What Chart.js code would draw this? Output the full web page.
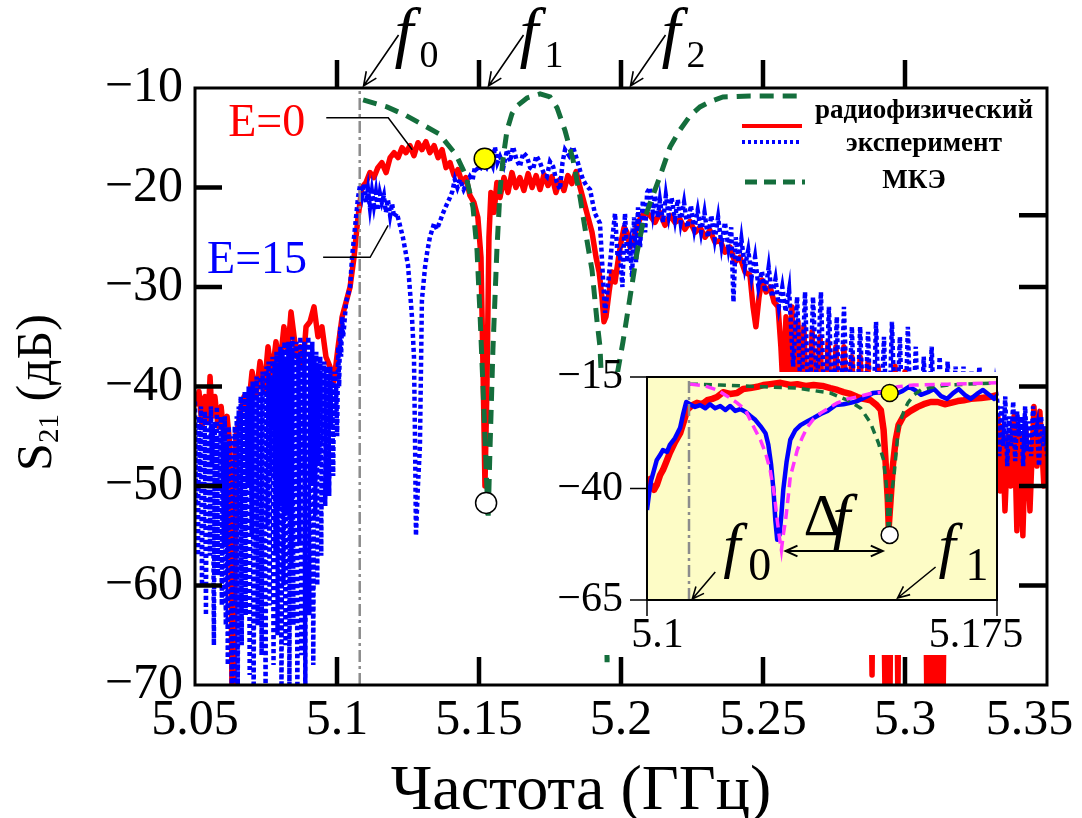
<!DOCTYPE html>
<html lang="ru">
<head>
<meta charset="UTF-8">
<title>S21 — Частота</title>
<script src="https://cdn.jsdelivr.net/npm/chart.js"></script>
<style>
  body { margin: 0; background: #fff; }
  #wrap { position: relative; width: 1082px; height: 818px; }
  #mainChart { position: absolute; left: 0; top: 0; }
  #insetChart { position: absolute; left: 545px; top: 360px; }
</style>
</head>
<body>
<div id="wrap">
  <canvas id="mainChart" width="1082" height="818"></canvas>
  <canvas id="insetChart" width="500" height="300"></canvas>
</div>
<script>
// ---------- данные основного графика (ГГц, дБ) ----------
const mainTickX = [5.1, 5.15, 5.2, 5.25, 5.3];
const leftTickY = [-20, -30, -40, -50, -60];
const rightTickY = [-22.8, -30, -40, -50, -60];
const fMarks = [5.109, 5.153, 5.203];
const fSubs = ['0', '1', '2'];
const f0Line = 5.108;
const pointE0 = [5.1265, -16.2];
const pointE15 = [5.118, -23.8];
const yellowMain = [5.152, -17.1];
const whiteMain = [5.1525, -51.7];

// E=0, радиофизический эксперимент
const redMain = [
  [5.0504,-42],[5.0514,-40.5],[5.0525,-44],[5.0535,-41],[5.0546,-43.5],[5.0553,-39],[5.0560,-43],[5.0570,-41],
  [5.0581,-44],[5.0592,-42],[5.0602,-45],[5.0613,-43],[5.0623,-46],[5.0630,-70],[5.0634,-52],[5.0637,-71],
  [5.0644,-45],[5.0658,-43],[5.0673,-41],[5.0687,-42.5],[5.0701,-38.5],[5.0715,-41],[5.0729,-37.5],[5.0743,-40.5],
  [5.0757,-36],[5.0771,-39],[5.0785,-35.5],[5.0799,-38],[5.0813,-34],[5.0827,-36.5],[5.0838,-32.5],[5.0849,-35],
  [5.0859,-37],[5.0870,-36],[5.0880,-38],[5.0891,-34],[5.0905,-33.5],[5.0919,-32],[5.0933,-35],[5.0947,-34],
  [5.0961,-37],[5.0975,-38],[5.0989,-39.5],[5.1004,-36],[5.1018,-33],[5.1032,-31.5],[5.1046,-30],[5.1060,-27],
  [5.1074,-23],[5.1088,-20],[5.1102,-19.5],[5.1116,-18.5],[5.1130,-19],[5.1144,-18],[5.1158,-17.5],[5.1173,-18.5],
  [5.1187,-17],[5.1201,-16.5],[5.1215,-17],[5.1229,-16],[5.1243,-16.5],[5.1257,-15.8],[5.1271,-16.8],[5.1285,-15.5],
  [5.1299,-16.2],[5.1313,-15.4],[5.1327,-16.5],[5.1342,-15.8],[5.1356,-17],[5.1370,-16.2],[5.1384,-18],[5.1398,-17.5],
  [5.1412,-18.8],[5.1426,-18.2],[5.1440,-19.5],[5.1454,-19],[5.1468,-20.8],[5.1482,-21.5],[5.1496,-23],[5.1507,-27],
  [5.1514,-38],[5.1521,-50],[5.1528,-40],[5.1535,-25],[5.1542,-20.5],[5.1553,-22.5],[5.1563,-19.5],[5.1574,-21],
  [5.1588,-19],[5.1602,-20.5],[5.1616,-18.5],[5.1630,-20],[5.1644,-19],[5.1658,-20.3],[5.1673,-18.6],[5.1687,-20],
  [5.1701,-18.8],[5.1715,-20.2],[5.1729,-18.7],[5.1743,-19.8],[5.1757,-18.9],[5.1771,-20.5],[5.1785,-19.2],[5.1799,-20.3],
  [5.1813,-18.8],[5.1827,-19.6],[5.1842,-18.4],[5.1856,-20],[5.1870,-21.5],[5.1884,-23],[5.1898,-24.5],[5.1912,-27],
  [5.1923,-28.5],[5.1933,-31],[5.1940,-33.5],[5.1947,-33],[5.1958,-30.5],[5.1968,-28.5],[5.1979,-29.5],[5.1989,-27.5],
  [5.2000,-25.5],[5.2011,-24],[5.2021,-24.5],[5.2032,-26],[5.2042,-25.5],[5.2056,-23.8],[5.2070,-23],[5.2085,-22.5],
  [5.2102,-22.8],[5.2120,-23.5],[5.2137,-22.5],[5.2155,-23.8],[5.2173,-22.8],[5.2190,-23.5],[5.2208,-23.2],[5.2225,-24.2],
  [5.2243,-23.4],[5.2261,-24.5],[5.2278,-24],[5.2296,-25],[5.2313,-24.3],[5.2331,-25.5],[5.2349,-25.3],[5.2366,-26.5],
  [5.2384,-26],[5.2401,-27.5],[5.2419,-27],[5.2437,-28.5],[5.2454,-28.8],[5.2465,-32],[5.2475,-34],[5.2486,-31],
  [5.2496,-29.3],[5.2511,-30.5],[5.2525,-30],[5.2539,-31.5],[5.2553,-32],[5.2563,-36],[5.2570,-40],[5.2581,-33],
  [5.2592,-42],[5.2602,-32],[5.2613,-44],[5.2623,-33.5],[5.2634,-45],[5.2644,-34],[5.2658,-46],[5.2673,-34.5],
  [5.2687,-45],[5.2701,-35],[5.2715,-47],[5.2729,-35.5],[5.2743,-45],[5.2757,-36],[5.2771,-48],[5.2785,-36],
  [5.2799,-46],[5.2813,-37],[5.2827,-48],[5.2842,-37],[5.2856,-47],[5.2870,-37.5],[5.2884,-69],[5.2891,-45],
  [5.2905,-38],[5.2919,-46],[5.2930,-72],[5.2937,-46],[5.2947,-72],[5.2954,-44],[5.2965,-38],[5.2975,-72],
  [5.2982,-44],[5.3000,-38.5],[5.3018,-47],[5.3035,-39],[5.3053,-48],[5.3067,-40],[5.3077,-72],[5.3085,-50],
  [5.3092,-72],[5.3099,-50],[5.3106,-72],[5.3113,-50],[5.3120,-72],[5.3127,-50],[5.3134,-72],[5.3144,-44],
  [5.3158,-40],[5.3176,-46],[5.3194,-41],[5.3211,-47],[5.3229,-42],[5.3246,-48],[5.3264,-42],[5.3282,-49],
  [5.3299,-43],[5.3317,-50],[5.3327,-43],[5.3335,-50.5],[5.3342,-44],[5.3352,-52.5],[5.3363,-45],[5.3373,-50],
  [5.3384,-43],[5.3394,-54.5],[5.3405,-45],[5.3415,-55],[5.3426,-44.5],[5.3440,-52.5],[5.3454,-42],[5.3465,-48],
  [5.3475,-42.5],[5.3489,-50],[5.3500,-44]
];

// E=15, радиофизический эксперимент
const blueMain = [
  [5.05000,-41.5],[5.05035,-52],[5.05070,-44],[5.05105,-57],[5.05140,-43],[5.05175,-49],[5.05210,-42],[5.05245,-60],
  [5.05280,-44.5],[5.05315,-54],[5.05350,-42.5],[5.05385,-63],[5.05420,-45],[5.05455,-51],[5.05490,-43],[5.05525,-57],
  [5.05560,-42],[5.05595,-48],[5.05630,-44],[5.05665,-66],[5.05700,-43.5],[5.05735,-55],[5.05770,-42],[5.05805,-59],
  [5.05840,-45],[5.05875,-50],[5.05910,-43],[5.05945,-62],[5.05980,-44],[5.06015,-56],[5.06050,-43],[5.06085,-64],
  [5.06120,-46],[5.06155,-68],[5.06190,-44],[5.06225,-58],[5.06260,-45],[5.06295,-71],[5.06330,-47],[5.06365,-72],
  [5.06400,-44],[5.06435,-62],[5.06470,-43],[5.06505,-70],[5.06540,-42],[5.06575,-54],[5.06610,-41],[5.06645,-66],
  [5.06680,-41.5],[5.06715,-58],[5.06750,-40.5],[5.06785,-63],[5.06820,-42],[5.06855,-50],[5.06890,-40],[5.06925,-69],
  [5.06960,-41],[5.06995,-55],[5.07030,-39.5],[5.07065,-72],[5.07100,-40],[5.07135,-57],[5.07170,-39],[5.07205,-64],
  [5.07240,-41],[5.07275,-52],[5.07310,-39],[5.07345,-67],[5.07380,-38.5],[5.07415,-59],[5.07450,-40],[5.07485,-71],
  [5.07520,-38],[5.07555,-54],[5.07590,-37.5],[5.07625,-62],[5.07660,-39],[5.07695,-49],[5.07730,-37],[5.07765,-68],
  [5.07800,-37.5],[5.07835,-57],[5.07870,-36.5],[5.07905,-65],[5.07940,-38],[5.07975,-52],[5.08010,-36],[5.08045,-72],
  [5.08080,-36.5],[5.08115,-60],[5.08150,-35.5],[5.08185,-66],[5.08220,-37],[5.08255,-53],[5.08290,-35.5],[5.08325,-70],
  [5.08360,-36],[5.08395,-58],[5.08430,-35],[5.08465,-64],[5.08500,-36.5],[5.08535,-51],[5.08570,-35.5],[5.08605,-72],
  [5.08640,-37],[5.08675,-56],[5.08710,-35],[5.08745,-67],[5.08780,-36],[5.08815,-49],[5.08850,-35.5],[5.08885,-71],
  [5.08920,-36],[5.08955,-55],[5.08990,-35],[5.09025,-63],[5.09060,-36.5],[5.09095,-50],[5.09130,-35.5],[5.09165,-68],
  [5.09200,-37],[5.09235,-53],[5.09270,-36.5],[5.09305,-60],[5.09340,-38],[5.09375,-48],[5.09410,-37],[5.09445,-57],
  [5.09480,-38.5],[5.09515,-46],[5.09550,-37.5],[5.09585,-52],[5.09620,-38],[5.09655,-45],[5.09690,-39],[5.09725,-51],
  [5.09760,-38],[5.09795,-44],[5.09830,-39.5],[5.09865,-49],[5.09900,-38.5],[5.09935,-43],[5.09970,-40],[5.10005,-45],
  [5.10040,-36],[5.10075,-40],[5.10110,-34],[5.10145,-37],[5.10180,-33],[5.10215,-35],[5.10250,-34],
  [5.1032,-31.5],[5.1046,-30],[5.1053,-27],[5.1060,-25],
  [5.1067,-23],[5.1074,-21],[5.1081,-19.8],[5.1088,-20.8],[5.1095,-19.6],[5.1102,-21.5],[5.1109,-20.2],[5.1116,-22],
  [5.1123,-20.4],[5.1130,-21.8],[5.1137,-20.5],[5.1144,-22.3],[5.1151,-20.6],[5.1158,-21.5],[5.1165,-20.8],[5.1172,-22.5],
  [5.1179,-21.2],[5.1187,-22.8],[5.1194,-21.6],[5.1201,-23],[5.1211,-22.6],[5.1232,-25],[5.1250,-27.8],[5.1264,-33],
  [5.1271,-37],[5.1275,-46],[5.1278,-55],[5.1285,-50],[5.1292,-46],[5.1299,-31.3],[5.1310,-28],[5.1317,-26.6],
  [5.1327,-25],[5.1342,-23.6],[5.1352,-24.2],[5.1373,-22.6],[5.1385,-21.8],[5.1398,-21],[5.1406,-20.4],[5.1415,-19.2],
  [5.1424,-20],[5.1433,-19.2],[5.1446,-20.2],[5.1458,-19.5],[5.1468,-18.9],[5.1477,-19.3],[5.1486,-17.9],[5.1500,-18.4],
  [5.1514,-17.5],[5.1527,-18],[5.1539,-17.2],[5.1548,-17.8],[5.1556,-15.9],[5.1565,-17.5],[5.1574,-16.9],[5.1587,-17.8],
  [5.1599,-16.2],[5.1610,-17.4],[5.1620,-15.9],[5.1632,-17.2],[5.1644,-17.9],[5.1656,-16.5],[5.1669,-16.9],[5.1680,-18],
  [5.1690,-18.2],[5.1702,-16.8],[5.1715,-17.5],[5.1727,-18.5],[5.1739,-18.9],[5.1750,-17.4],[5.1761,-17.9],[5.1773,-19.4],
  [5.1785,-20.2],[5.1794,-17.5],[5.1803,-16.2],[5.1817,-16.8],[5.1831,-15.9],[5.1845,-17.2],[5.1856,-18.3],[5.1866,-19.2],
  [5.1878,-19.8],[5.1891,-20.2],[5.1900,-21.5],[5.1908,-22.6],[5.1926,-23.6],[5.1937,-29.3],[5.1944,-32.6],[5.1952,-30.5],
  [5.1961,-27.8],[5.1970,-25],[5.1979,-22.6],[5.1988,-27],[5.1996,-26.6],[5.2005,-30],[5.2014,-22.6],[5.2023,-27.5],
  [5.2032,-25.9],[5.2039,-29],[5.2046,-23],[5.2053,-27.5],[5.2060,-22],[5.2067,-26],[5.2077,-21.3],[5.2085,-24.5],
  [5.2092,-20.5],[5.2102,-20],[5.2112,-22.5],[5.2120,-20.8],[5.2130,-23],[5.2137,-21.3],[5.2148,-23.5],[5.2158,-20.8],
  [5.2168,-22.8],[5.2178,-21],[5.2190,-23.2],[5.2200,-21.2],[5.2210,-23.5],[5.2222,-21.5],[5.2234,-24],[5.2246,-21.8],
  [5.2258,-24.2],[5.2270,-22.3],[5.2282,-24.5],[5.2294,-22.5],[5.2306,-25],[5.2318,-22.8],[5.2330,-25.2],[5.2342,-23],
  [5.2354,-25.8],[5.2366,-23.5],[5.2378,-26],[5.2388,-24],[5.2396,-31.5],[5.2404,-25],[5.2414,-27.5],[5.2424,-25.2],
  [5.2436,-28],[5.2448,-26.3],[5.2460,-29],[5.2472,-27],[5.2484,-30],[5.2496,-28.4],[5.2508,-30.5],[5.2520,-28],
  [5.2532,-31],[5.2544,-29.2],[5.2556,-32],[5.2568,-30],[5.2580,-32.5],[5.2592,-30.3],[5.2606,-38],[5.2620,-31],
  [5.2634,-42],[5.2648,-30.5],[5.2662,-44],[5.2676,-31],[5.2690,-40],[5.2704,-30.5],[5.2718,-45],[5.2732,-32],
  [5.2746,-43],[5.2760,-33],[5.2771,-46],[5.2785,-32],[5.2799,-44],[5.2813,-34],[5.2827,-47],[5.2842,-34],
  [5.2856,-45],[5.2870,-34.5],[5.2884,-48],[5.2898,-33.5],[5.2912,-46],[5.2926,-35],[5.2940,-48],[5.2954,-33.5],
  [5.2968,-46],[5.2982,-35],[5.2996,-49],[5.3010,-34],[5.3024,-47],[5.3038,-36],[5.3052,-48],[5.3066,-37],
  [5.3080,-46],[5.3094,-36],[5.3108,-48],[5.3122,-37],[5.3136,-47],[5.3150,-37.5],[5.3164,-45],[5.3178,-38],
  [5.3192,-44],[5.3206,-38],[5.3220,-45],[5.3234,-38.5],[5.3248,-44],[5.3262,-38],[5.3276,-45],[5.3290,-39],
  [5.3304,-44],[5.3318,-40],[5.3325,-41.5],[5.3332,-47],[5.3339,-42],[5.3346,-46],[5.3353,-41],[5.3360,-48],
  [5.3367,-43],[5.3374,-46],[5.3381,-41.5],[5.3388,-47.5],[5.3395,-42.5],[5.3402,-45],[5.3409,-43],[5.3416,-48],
  [5.3423,-42],[5.3430,-46.5],[5.3437,-43.5],[5.3444,-47],[5.3451,-42],[5.3458,-45],[5.3465,-44],[5.3472,-48],
  [5.3479,-43],[5.3486,-46],[5.3493,-44],[5.3500,-47]
];

// МКЭ
const femMain = [
  [5.1092,-11.2],[5.1176,-11.9],[5.1239,-12.7],[5.1296,-13.6],[5.1359,-14.6],[5.1419,-16.7],[5.1454,-18.8],[5.1479,-22],
  [5.1493,-26.3],[5.1504,-33],[5.1514,-40],[5.1525,-48],[5.1532,-53.4],[5.1539,-46],[5.1549,-36.3],[5.1563,-26.3],
  [5.1574,-20.3],[5.1585,-17],[5.1599,-14.2],[5.1616,-12.6],[5.1634,-11.8],[5.1669,-11],[5.1715,-10.6],[5.1750,-10.9],
  [5.1775,-12],[5.1803,-14.3],[5.1831,-17.2],[5.1856,-21],[5.1880,-25.3],[5.1898,-28.3],[5.1915,-33.3],[5.1926,-36],
  [5.1940,-45],[5.1951,-67.7],[5.1961,-50],[5.1979,-40],[5.2007,-35.5],[5.2032,-31],[5.2056,-26.6],[5.2077,-23.6],
  [5.2102,-21.6],[5.2137,-18.9],[5.2173,-15.9],[5.2208,-14.2],[5.2243,-12.8],[5.2278,-11.9],[5.2320,-11.3],[5.2359,-10.9],
  [5.2454,-10.8],[5.2641,-10.8]
];

// ---------- данные вставки ----------
const insetTickX = [5.1, 5.175];
const insetTickY = [-65, -40, -15];
const insetF = [5.1097, 5.1537];
const deltaF = [5.1297, 5.1505];
const f0Inset = 5.109;
const yellowInset = [5.152, -18.6];
const whiteInset = [5.152, -50.4];

const redInset = [
  [5.1000,-37.4],[5.1006,-38.8],[5.1015,-40.3],[5.1021,-39.2],[5.1028,-37],[5.1034,-35.9],[5.1041,-34.1],[5.1049,-32],
  [5.1060,-29.6],[5.1071,-27.6],[5.1080,-24.6],[5.1086,-22.4],[5.1097,-21.3],[5.1107,-20.8],[5.1118,-21.1],[5.1129,-20.2],
  [5.1140,-19.9],[5.1150,-19.5],[5.1163,-18.4],[5.1178,-18.8],[5.1193,-18.6],[5.1206,-17.7],[5.1221,-17.5],[5.1236,-17.2],
  [5.1249,-16.8],[5.1264,-16.6],[5.1286,-16.3],[5.1307,-16.8],[5.1322,-16.6],[5.1340,-17],[5.1357,-16.8],[5.1376,-17],
  [5.1393,-17.5],[5.1408,-17.9],[5.1421,-18.4],[5.1436,-18.8],[5.1451,-19.5],[5.1464,-19.9],[5.1479,-20.2],[5.1492,-21.3],
  [5.1501,-22.4],[5.1507,-26.9],[5.1511,-33.6],[5.1516,-42.6],[5.1518,-48.6],[5.1522,-42.6],[5.1527,-34.7],[5.1533,-29.1],
  [5.1539,-25.8],[5.1550,-23.7],[5.1565,-22.6],[5.1580,-21.7],[5.1593,-21.1],[5.1608,-20.6],[5.1623,-20.6],[5.1638,-21.1],
  [5.1651,-20.8],[5.1666,-20.4],[5.1679,-20.2],[5.1694,-19.9],[5.1716,-19.7],[5.1733,-19.5],[5.1752,-19]
];
const blueInset = [
  [5.1000,-44.8],[5.1004,-41.5],[5.1009,-38.1],[5.1015,-35.9],[5.1021,-33.6],[5.1028,-32.5],[5.1034,-31.4],[5.1043,-31.8],
  [5.1049,-30.2],[5.1060,-28.7],[5.1071,-26.4],[5.1077,-23.5],[5.1084,-20.6],[5.1092,-21.1],[5.1103,-21.7],[5.1114,-21.3],
  [5.1125,-22],[5.1135,-21.1],[5.1146,-22],[5.1157,-21.5],[5.1168,-22.4],[5.1178,-21.5],[5.1189,-22.6],[5.1200,-22.2],
  [5.1211,-22.8],[5.1221,-23.7],[5.1232,-24.6],[5.1243,-26],[5.1254,-27.6],[5.1260,-30.2],[5.1266,-34.7],[5.1271,-40.3],
  [5.1275,-47.1],[5.1279,-51.5],[5.1284,-50.4],[5.1288,-45.9],[5.1292,-40.3],[5.1299,-34.1],[5.1307,-29.1],[5.1318,-26.9],
  [5.1329,-25.8],[5.1344,-24.9],[5.1357,-24.2],[5.1372,-23.3],[5.1387,-22.6],[5.1404,-21.3],[5.1421,-21.1],[5.1436,-20.8],
  [5.1451,-20.4],[5.1469,-19.5],[5.1484,-18.6],[5.1501,-18.4],[5.1518,-18.6],[5.1533,-18.8],[5.1548,-18.1],[5.1561,-17.2],
  [5.1574,-17.9],[5.1587,-19],[5.1602,-18.4],[5.1615,-17.7],[5.1630,-19.3],[5.1643,-19.9],[5.1656,-18.6],[5.1668,-17.7],
  [5.1681,-19],[5.1694,-19.9],[5.1707,-18.8],[5.1720,-17.9],[5.1733,-19],[5.1744,-19.9],[5.1752,-19]
];
const femInset = [
  [5.1092,-16.6],[5.1157,-16.8],[5.1249,-17.2],[5.1322,-17.5],[5.1393,-18.6],[5.1430,-20.2],[5.1458,-22],[5.1479,-25.3],
  [5.1496,-29.8],[5.1507,-33.6],[5.1514,-40.3],[5.1518,-53.1],[5.1522,-42.6],[5.1529,-37.4],[5.1539,-26.2],[5.1550,-22.8],
  [5.1559,-20.8],[5.1572,-19],[5.1587,-17.9],[5.1615,-17.2],[5.1645,-16.8],[5.1752,-16.3]
];
const fitInset = [
  [5.1092,-16.6],[5.1125,-17],[5.1150,-17.9],[5.1172,-19.3],[5.1193,-20.8],[5.1211,-22.4],[5.1221,-24.6],[5.1232,-26.9],
  [5.1243,-29.1],[5.1254,-32],[5.1264,-35.9],[5.1273,-41.5],[5.1279,-47.1],[5.1284,-51.1],[5.1288,-53.8],[5.1292,-50.4],
  [5.1297,-47.1],[5.1303,-41.5],[5.1307,-37.4],[5.1322,-31.4],[5.1333,-28.5],[5.1344,-26.2],[5.1357,-24.4],[5.1372,-23.1],
  [5.1389,-22],[5.1408,-20.8],[5.1430,-19.9],[5.1451,-19.5],[5.1475,-18.8],[5.1501,-18.4],[5.1537,-17.2],[5.1572,-16.8],
  [5.1645,-16.6],[5.1752,-16.3]
];

// ---------- оформление ----------
const SERIF = '"Liberation Serif", "Times New Roman", serif';
Chart.defaults.font.family = SERIF;
Chart.defaults.color = '#000';

const toXY = arr => arr.map(p => ({ x: p[0], y: p[1] }));
const minus = v => (v < 0 ? '\u2212' : '') + Math.abs(v);
const RED = '#ff0000', BLUE = '#0000ff', GREEN = '#146e3c', GRAY = '#8c8c8c', MAGENTA = '#ff33ff';

function arrow(ctx, x1, y1, x2, y2, head) {
  const ang = Math.atan2(y2 - y1, x2 - x1);
  ctx.beginPath();
  ctx.moveTo(x1, y1); ctx.lineTo(x2, y2);
  ctx.moveTo(x2 - head * Math.cos(ang - 0.42), y2 - head * Math.sin(ang - 0.42));
  ctx.lineTo(x2, y2);
  ctx.lineTo(x2 - head * Math.cos(ang + 0.42), y2 - head * Math.sin(ang + 0.42));
  ctx.stroke();
}

function noGrid() { return { display: false, drawTicks: false }; }

const mainDecor = {
  id: 'mainDecor',
  afterDraw(chart) {
    const { ctx, chartArea: a } = chart;
    const x = chart.scales.x, y = chart.scales.y;
    ctx.save();
    ctx.strokeStyle = '#000';
    ctx.lineWidth = 3;
    ctx.strokeRect(a.left, a.top, a.right - a.left, a.bottom - a.top);

    ctx.lineWidth = 4.5;
    ctx.beginPath();
    mainTickX.forEach(v => {
      const px = x.getPixelForValue(v);
      ctx.moveTo(px, a.bottom); ctx.lineTo(px, a.bottom - 28);
      ctx.moveTo(px, a.top); ctx.lineTo(px, a.top - 28);
    });
    leftTickY.forEach(v => {
      const py = y.getPixelForValue(v);
      ctx.moveTo(a.left, py); ctx.lineTo(a.left + 27, py);
    });
    rightTickY.forEach(v => {
      const py = y.getPixelForValue(v);
      ctx.moveTo(a.right, py); ctx.lineTo(a.right - 28, py);
    });
    ctx.stroke();

    // f0, f1, f2 над верхней осью
    ctx.lineWidth = 1.6;
    ctx.fillStyle = '#000';
    ctx.textAlign = 'left';
    ctx.textBaseline = 'alphabetic';
    fMarks.forEach((f, i) => {
      const px = x.getPixelForValue(f);
      arrow(ctx, px + 36, a.top - 53, px + 1, a.top - 2, 15);
      ctx.font = 'italic 68px ' + SERIF;
      ctx.fillText('f', px + 32, a.top - 33);
      ctx.font = '38px ' + SERIF;
      ctx.fillText(fSubs[i], px + 57, a.top - 21);
    });

    // подписи E=0 и E=15
    const p0x = x.getPixelForValue(pointE0[0]), p0y = y.getPixelForValue(pointE0[1]);
    ctx.lineWidth = 1.5;
    ctx.beginPath();
    ctx.moveTo(p0x - 86, p0y - 32); ctx.lineTo(p0x - 24, p0y - 32); ctx.lineTo(p0x, p0y);
    ctx.stroke();
    ctx.font = '46px ' + SERIF;
    ctx.textAlign = 'right';
    ctx.fillStyle = RED;
    ctx.fillText('E=0', p0x - 107, p0y - 14);

    const p1x = x.getPixelForValue(pointE15[0]), p1y = y.getPixelForValue(pointE15[1]);
    ctx.beginPath();
    ctx.moveTo(p1x - 65, p1y + 32); ctx.lineTo(p1x - 18, p1y + 32); ctx.lineTo(p1x, p1y);
    ctx.stroke();
    ctx.fillStyle = BLUE;
    ctx.fillText('E=15', p1x - 81, p1y + 48);

    // легенда
    const lx = a.right - 305;
    ctx.lineWidth = 4;
    ctx.strokeStyle = RED;
    ctx.beginPath(); ctx.moveTo(lx, a.top + 38); ctx.lineTo(lx + 60, a.top + 38); ctx.stroke();
    ctx.strokeStyle = BLUE;
    ctx.setLineDash([3, 3]);
    ctx.beginPath(); ctx.moveTo(lx, a.top + 54); ctx.lineTo(lx + 60, a.top + 54); ctx.stroke();
    ctx.strokeStyle = GREEN;
    ctx.lineWidth = 5;
    ctx.setLineDash([12, 7]);
    ctx.beginPath(); ctx.moveTo(lx + 3, a.top + 94); ctx.lineTo(lx + 63, a.top + 94); ctx.stroke();
    ctx.setLineDash([]);
    ctx.fillStyle = '#000';
    ctx.textAlign = 'center';
    ctx.textBaseline = 'middle';
    ctx.font = 'bold 27px ' + SERIF;
    ctx.fillText('радиофизический', a.right - 123, a.top + 23);
    ctx.fillText('эксперимент', a.right - 123, a.top + 56);
    ctx.fillText('МКЭ', a.right - 133, a.top + 93);

    // S21 (дБ)
    ctx.textBaseline = 'alphabetic';
    ctx.textAlign = 'left';
    ctx.font = '50px ' + SERIF;
    const wS = ctx.measureText('S').width;
    const wRest = ctx.measureText(' (дБ)').width;
    ctx.font = '29px ' + SERIF;
    const wSub = ctx.measureText('21').width;
    const total = wS + wSub + wRest;
    ctx.translate(51, (a.top + a.bottom) / 2 + 6);
    ctx.rotate(-Math.PI / 2);
    let cx = -total / 2;
    ctx.font = '50px ' + SERIF;
    ctx.fillText('S', cx, 0);
    cx += wS;
    ctx.font = '29px ' + SERIF;
    ctx.fillText('21', cx, 7);
    cx += wSub;
    ctx.font = '50px ' + SERIF;
    ctx.fillText(' (дБ)', cx, 0);
    ctx.restore();
  }
};

new Chart(document.getElementById('mainChart'), {
  type: 'line',
  data: {
    datasets: [
      { data: toXY(redMain), borderColor: RED, borderWidth: 5.5, pointRadius: 0, borderJoinStyle: 'round', order: 6 },
      { data: toXY(blueMain), borderColor: BLUE, borderWidth: 4.5, borderDash: [4, 3], pointRadius: 0, order: 5 },
      { data: toXY(femMain), borderColor: GREEN, borderWidth: 5, borderDash: [14, 9], pointRadius: 0, order: 4 },
      { data: [{ x: f0Line, y: -70 }, { x: f0Line, y: -10 }], borderColor: GRAY, borderWidth: 2.5,
        borderDash: [12, 4, 3, 4], pointRadius: 0, order: 3 },
      { data: [{ x: yellowMain[0], y: yellowMain[1] }], showLine: false, pointRadius: 10.5,
        pointBackgroundColor: '#ffff00', pointBorderColor: '#000', pointBorderWidth: 1.5, order: 1 },
      { data: [{ x: whiteMain[0], y: whiteMain[1] }], showLine: false, pointRadius: 10.5,
        pointBackgroundColor: '#fff', pointBorderColor: '#000', pointBorderWidth: 1.5, order: 1 }
    ]
  },
  options: {
    responsive: false,
    animation: false,
    events: [],
    layout: { padding: 0 },
    plugins: { legend: { display: false }, tooltip: { enabled: false } },
    scales: {
      x: {
        type: 'linear', position: 'bottom', min: 5.05, max: 5.35,
        grid: noGrid(), border: { display: false },
        ticks: {
          stepSize: 0.05, padding: 6, autoSkip: false, maxRotation: 0, font: { size: 50 },
          callback: v => Number(v.toFixed(3)).toString() + (Math.abs(v - 5.35) < 1e-6 ? '\u2002\u2009' : '')
        },
        title: {
          display: true, text: 'Частота (ГГц)\u2002\u2002\u2005',
          font: { size: 64, lineHeight: 0.8 }, padding: { top: 0, bottom: 0 }
        },
        afterFit: s => { s.height = 133; s.paddingLeft = 0; s.paddingRight = 0; }
      },
      xTop: {
        type: 'linear', axis: 'x', position: 'top', min: 5.05, max: 5.35,
        grid: noGrid(), border: { display: false }, ticks: { display: false },
        afterFit: s => { s.height = 88; s.paddingLeft = 0; s.paddingRight = 0; }
      },
      y: {
        type: 'linear', position: 'left', min: -70, max: -10,
        grid: noGrid(), border: { display: false },
        ticks: { stepSize: 10, padding: 12, font: { size: 50 }, callback: minus },
        afterFit: s => { s.width = 195; s.paddingTop = 0; s.paddingBottom = 0; }
      },
      yRight: {
        type: 'linear', axis: 'y', position: 'right', min: -70, max: -10,
        grid: noGrid(), border: { display: false }, ticks: { display: false },
        afterFit: s => { s.width = 35; }
      }
    }
  },
  plugins: [mainDecor]
});

// ---------- вставка ----------
const insetDecor = {
  id: 'insetDecor',
  beforeDraw(chart) {
    const { ctx, chartArea: a } = chart;
    ctx.save();
    ctx.fillStyle = '#fff';
    ctx.fillRect(10, 12, a.right - 10, 283);
    ctx.fillStyle = '#fdfcc6';
    ctx.fillRect(a.left, a.top, a.right - a.left, a.bottom - a.top);
    ctx.restore();
  },
  afterDraw(chart) {
    const { ctx, chartArea: a } = chart;
    const x = chart.scales.x, y = chart.scales.y;
    ctx.save();
    ctx.strokeStyle = '#000';
    ctx.lineWidth = 2;
    ctx.strokeRect(a.left, a.top, a.right - a.left, a.bottom - a.top);
    ctx.lineWidth = 1.5;
    ctx.beginPath();
    insetTickX.forEach(v => {
      const px = x.getPixelForValue(v);
      ctx.moveTo(px, a.bottom); ctx.lineTo(px, a.bottom + 16);
    });
    insetTickY.forEach(v => {
      const py = y.getPixelForValue(v);
      ctx.moveTo(a.left, py); ctx.lineTo(a.left - 17, py);
    });
    ctx.stroke();

    // Δf
    const ay = a.bottom - 49;
    const x1 = x.getPixelForValue(deltaF[0]), x2 = x.getPixelForValue(deltaF[1]);
    ctx.lineWidth = 2;
    arrow(ctx, (x1 + x2) / 2, ay, x1, ay, 13);
    arrow(ctx, (x1 + x2) / 2, ay, x2, ay, 13);
    ctx.fillStyle = '#000';
    ctx.textAlign = 'left';
    ctx.textBaseline = 'alphabetic';
    ctx.font = '60px ' + SERIF;
    ctx.fillText('Δ', x1 + 18, ay - 16);
    ctx.font = 'italic 64px ' + SERIF;
    ctx.fillText('f', x1 + 47, ay - 13);

    // f0, f1 во вставке
    ctx.lineWidth = 1.6;
    const t0 = x.getPixelForValue(insetF[0]);
    arrow(ctx, t0 + 23, a.bottom - 28, t0, a.bottom - 1, 13);
    ctx.font = 'italic 62px ' + SERIF;
    ctx.fillText('f', t0 + 31, a.bottom - 34);
    ctx.font = '46px ' + SERIF;
    ctx.fillText('0', t0 + 56, a.bottom - 20);

    const t1 = x.getPixelForValue(insetF[1]);
    arrow(ctx, t1 + 38, a.bottom - 33, t1, a.bottom - 2, 13);
    ctx.font = 'italic 62px ' + SERIF;
    ctx.fillText('f', t1 + 41, a.bottom - 34);
    ctx.font = '46px ' + SERIF;
    ctx.fillText('1', t1 + 68, a.bottom - 20);
    ctx.restore();
  }
};

new Chart(document.getElementById('insetChart'), {
  type: 'line',
  data: {
    datasets: [
      { data: toXY(redInset), borderColor: RED, borderWidth: 6.5, pointRadius: 0, borderJoinStyle: 'round', order: 7 },
      { data: toXY(blueInset), borderColor: BLUE, borderWidth: 4.5, pointRadius: 0, borderJoinStyle: 'round', order: 6 },
      { data: toXY(femInset), borderColor: GREEN, borderWidth: 3.5, borderDash: [8, 6], pointRadius: 0, order: 5 },
      { data: toXY(fitInset), borderColor: MAGENTA, borderWidth: 3.5, borderDash: [10, 6], pointRadius: 0, order: 4 },
      { data: [{ x: f0Inset, y: -65 }, { x: f0Inset, y: -15 }], borderColor: GRAY, borderWidth: 2.5,
        borderDash: [12, 4, 3, 4], pointRadius: 0, order: 3 },
      { data: [{ x: yellowInset[0], y: yellowInset[1] }], showLine: false, pointRadius: 8.5,
        pointBackgroundColor: '#ffff00', pointBorderColor: '#000', pointBorderWidth: 1.5, order: 1 },
      { data: [{ x: whiteInset[0], y: whiteInset[1] }], showLine: false, pointRadius: 8.5,
        pointBackgroundColor: '#fff', pointBorderColor: '#000', pointBorderWidth: 1.5, order: 1 }
    ]
  },
  options: {
    responsive: false,
    animation: false,
    events: [],
    layout: { padding: { top: 17, right: 48, left: 0, bottom: 0 } },
    plugins: { legend: { display: false }, tooltip: { enabled: false } },
    scales: {
      x: {
        type: 'linear', min: 5.1, max: 5.175,
        grid: noGrid(), border: { display: false },
        afterBuildTicks: s => { s.ticks = insetTickX.map(v => ({ value: v })); },
        ticks: {
          padding: 11, autoSkip: false, maxRotation: 0, font: { size: 42 },
          callback: (v, i) => i === 0 ? '\u2002' + Number(v.toFixed(3)) : Number(v.toFixed(3)) + '\u2002\u2002'
        },
        afterFit: s => { s.height = 60; s.paddingLeft = 0; s.paddingRight = 0; }
      },
      y: {
        type: 'linear', min: -65, max: -15,
        grid: noGrid(), border: { display: false },
        afterBuildTicks: s => { s.ticks = insetTickY.map(v => ({ value: v })); },
        ticks: { padding: 24, font: { size: 42 }, callback: minus },
        afterFit: s => { s.width = 102; s.paddingTop = 0; s.paddingBottom = 0; }
      }
    }
  },
  plugins: [insetDecor]
});
</script>
</body>
</html>
